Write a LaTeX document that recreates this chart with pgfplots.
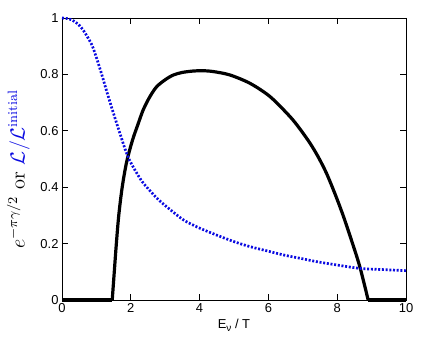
\documentclass[border=0pt]{standalone}
\usepackage{graphicx}
\usepackage{pgfplots}
\pgfplotsset{compat=1.18}
\usepackage{fontspec}
\newfontfamily\hel{Liberation Sans}
\definecolor{myblue}{RGB}{10,10,225}
\begin{document}
\begin{tikzpicture}
\begin{axis}[
  scale only axis,
  width=344bp, height=282bp,
  xmin=0, xmax=10, ymin=0, ymax=1,
  xtick={0,2,4,6,8,10},
  ytick={0,0.2,0.4,0.6,0.8,1},
  tick align=inside,
  major tick length=6bp,
  tick style={black, line width=0.8pt},
  axis line style={line width=0.8pt},
  /pgf/number format/assume math mode=true,
  ticklabel style={font=\hel\fontsize{13}{15}\selectfont},
  xlabel={\hel\fontsize{13}{15}\selectfont E\raisebox{-0.35ex}{\fontsize{10}{11}\selectfont ν} / T},
  ylabel={\scalebox{1.7}{\fontsize{12}{14}\selectfont $e^{-\pi\gamma/2}$ or \textcolor{myblue}{$\mathcal{L}/\mathcal{L}^{\rm initial}$}}},
  xlabel style={yshift=0bp},
  ylabel style={yshift=4bp, xshift=-10bp},
  clip=false,
]
\addplot[black, line width=3.2bp] coordinates {(0,0) (1.46,0)};
\addplot[black, line width=3.2bp, smooth, tension=0.5] coordinates {
(1.46,0) (1.52,0.10) (1.58,0.2) (1.65,0.30) (1.75,0.40) (1.88,0.49)
(2.05,0.567) (2.2,0.62) (2.36,0.674) (2.55,0.72) (2.75,0.756) (3.0,0.781)
(3.24,0.798) (3.5,0.807) (3.82,0.812) (4.1,0.813) (4.4,0.81) (4.88,0.798)
(5.47,0.768) (6.05,0.721) (6.63,0.65) (6.92,0.606) (7.21,0.556) (7.45,0.507)
(7.69,0.449) (7.95,0.372) (8.18,0.297) (8.42,0.21) (8.66,0.117) (8.9,0)
};
\addplot[black, line width=3.2bp] coordinates {(8.9,0) (10,0)};
\addplot[myblue, line width=2.7bp, dash pattern=on 2bp off 1.7bp, smooth] coordinates {
(0,1) (0.15,0.998) (0.29,0.993) (0.45,0.98) (0.58,0.963) (0.72,0.937)
(0.87,0.904) (1.0,0.86) (1.16,0.798) (1.3,0.74) (1.45,0.68) (1.58,0.63)
(1.70,0.585) (1.82,0.54) (1.94,0.502) (2.1,0.465) (2.33,0.42) (2.56,0.387)
(2.81,0.355) (3.1,0.325) (3.53,0.284) (4.0,0.255) (4.5,0.23) (5.0,0.207)
(5.47,0.189) (6.0,0.173) (6.43,0.16) (7.0,0.146) (7.40,0.136) (8.0,0.124)
(8.66,0.112) (9.3,0.108) (10,0.104)
};
\end{axis}
\path ([shift={(-62bp,-46bp)}]current axis.south west) rectangle ([shift={(26bp,18bp)}]current axis.north east);
\end{tikzpicture}
\end{document}
